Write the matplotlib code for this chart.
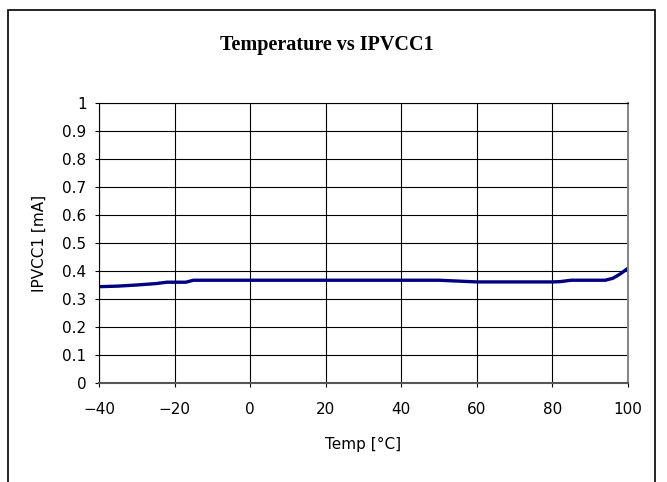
import matplotlib.pyplot as plt
from matplotlib.patches import Rectangle

temp = [-40, -35, -30, -25, -22, -17, -15, 0, 20, 40, 50, 60, 70, 80, 82, 85, 90, 94, 96, 98, 100]
ipvcc1 = [0.344, 0.346, 0.350, 0.355, 0.360, 0.360, 0.367, 0.367, 0.367, 0.367, 0.367, 0.361, 0.361, 0.361,
          0.362, 0.367, 0.367, 0.367, 0.374, 0.390, 0.410]

xticks = [-40, -20, 0, 20, 40, 60, 80, 100]
yticks = [0, 0.1, 0.2, 0.3, 0.4, 0.5, 0.6, 0.7, 0.8, 0.9, 1]
ylabels = ["0", "0.1", "0.2", "0.3", "0.4", "0.5", "0.6", "0.7", "0.8", "0.9", "1"]

plt.rcParams['font.family'] = ['DejaVu Sans']

fig = plt.figure(figsize=(6.67, 4.82), dpi=100)
ax = fig.add_axes([99/667, 1-383/482, (628-99)/667, (383-103)/482])

ax.plot(temp, ipvcc1, color='#000080', lw=2.4, solid_capstyle='butt')
ax.set_xlim(-40, 100)
ax.set_ylim(0, 1)
ax.set_xticks(xticks)
ax.set_xticklabels([str(t).replace('-', '\u2212') for t in xticks])
ax.set_yticks(yticks)
ax.set_yticklabels(ylabels)
ax.grid(True, color='black', lw=0.8)
ax.tick_params(labelsize=11, length=3, width=0.8, pad=6)
ax.tick_params(axis='x', pad=11)
for s in ax.spines.values():
    s.set_color('black')
    s.set_linewidth(0.8)
ax.spines['right'].set_color('#888888')
ax.spines['bottom'].set_color('#555555')
ax.spines['right'].set_linewidth(1.5)
ax.spines['bottom'].set_linewidth(1.5)

ax.set_xlabel('Temp [\u00b0C]', fontsize=11, labelpad=14)
ax.set_ylabel('IPVCC1 [mA]', fontsize=11, labelpad=11)
fig.text(327/667, 1-45/482, 'Temperature vs IPVCC1', ha='center', va='center',
         fontsize=14.5, fontweight='bold', family='Liberation Serif')

fig.patches.append(Rectangle((8/667, -0.1), (655-8)/667, 1.1-10/482, transform=fig.transFigure,
                             fill=False, ec='black', lw=1.2))

fig.savefig('out.png', dpi=100)
